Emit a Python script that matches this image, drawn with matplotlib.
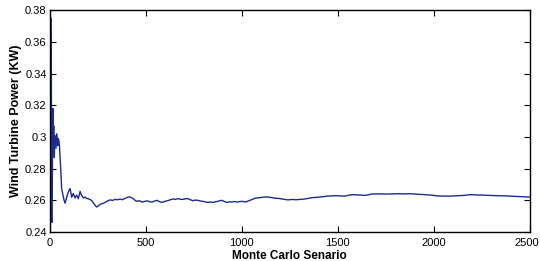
import matplotlib.pyplot as plt
from matplotlib.transforms import ScaledTranslation

# Monte Carlo running mean
scenario = [9, 10, 11, 12, 13, 14, 16, 18, 20, 22, 23, 25, 28, 31, 34, 37, 39, 43, 46, 49,
            52, 55, 59, 63, 67, 72, 76, 81, 85, 89, 94, 98, 103, 107, 111, 115, 120, 124,
            129, 133, 137, 141, 146, 150, 155, 159, 163, 167, 172, 176, 181, 185, 193,
            202, 210, 219, 228, 237, 245, 254, 263, 276, 289, 302, 315, 328, 341, 354,
            367, 380, 393, 404, 414, 424, 434, 445, 455, 468, 481, 494, 507, 520, 533,
            546, 559, 572, 585, 598, 611, 627, 642, 655, 668, 681, 694, 707, 720, 733,
            746, 759, 772, 785, 798, 811, 824, 837, 850, 863, 876, 887, 897, 910, 923,
            936, 949, 962, 975, 988, 1001, 1012, 1022, 1033, 1043, 1056, 1069, 1082,
            1095, 1108, 1121, 1134, 1147, 1160, 1173, 1186, 1199, 1220, 1240, 1261,
            1282, 1302, 1323, 1344, 1365, 1386, 1406, 1427, 1448, 1469, 1490, 1513,
            1537, 1555, 1573, 1594, 1615, 1630, 1646, 1661, 1677, 1711, 1745, 1784,
            1823, 1849, 1875, 1901, 1927, 1953, 1979, 2000, 2020, 2050, 2083, 2122,
            2161, 2174, 2187, 2213, 2239, 2278, 2317, 2356, 2395, 2445, 2495, 2500]
power = [0.375, 0.300, 0.252, 0.246, 0.285, 0.262, 0.300, 0.318, 0.300, 0.307,
         0.296, 0.287, 0.301, 0.297, 0.293, 0.302, 0.298, 0.2945, 0.299, 0.2975,
         0.294, 0.2873, 0.278, 0.2676, 0.265, 0.2621, 0.2600, 0.2582, 0.2600, 0.2620,
         0.2640, 0.2652, 0.2668, 0.2674, 0.2650, 0.2620, 0.2635, 0.2643, 0.2628,
         0.2615, 0.2625, 0.2633, 0.2620, 0.2611, 0.2635, 0.2657, 0.2645, 0.2632,
         0.2622, 0.2615, 0.2618, 0.2621, 0.2612, 0.2611, 0.2605, 0.2600, 0.2585,
         0.2569, 0.2558, 0.2565, 0.2575, 0.2580, 0.2587, 0.2596, 0.2603, 0.2600,
         0.2606, 0.2604, 0.2608, 0.2604, 0.2613, 0.2618, 0.2623, 0.2618, 0.2613,
         0.2600, 0.2594, 0.2598, 0.2589, 0.2593, 0.2597, 0.2592, 0.2589, 0.2596,
         0.2600, 0.2592, 0.2587, 0.2593, 0.2597, 0.2603, 0.2609, 0.2606, 0.2611,
         0.2607, 0.2606, 0.2610, 0.2611, 0.2604, 0.2598, 0.2602, 0.2600, 0.2596,
         0.2594, 0.2590, 0.2587, 0.2590, 0.2587, 0.2591, 0.2594, 0.2598, 0.2600,
         0.2593, 0.2587, 0.2591, 0.2590, 0.2593, 0.2589, 0.2592, 0.2594, 0.2591,
         0.2590, 0.2596, 0.2600, 0.2607, 0.2613, 0.2616, 0.2617, 0.2620, 0.2621,
         0.2622, 0.2619, 0.2617, 0.2613, 0.2613, 0.2611, 0.2607, 0.2603, 0.2606,
         0.2604, 0.2606, 0.2608, 0.2612, 0.2617, 0.2619, 0.2621, 0.2624, 0.2627,
         0.2628, 0.2630, 0.2628, 0.2627, 0.2632, 0.2636, 0.2635, 0.2634, 0.2632,
         0.2632, 0.2636, 0.2640, 0.2641, 0.2640, 0.2641, 0.2642, 0.2641, 0.2642,
         0.2640, 0.2638, 0.2636, 0.2634, 0.2631, 0.2628, 0.2627, 0.2627, 0.2629,
         0.2632, 0.2634, 0.2636, 0.2635, 0.2634, 0.2632, 0.2630, 0.2629, 0.2627,
         0.2624, 0.2621, 0.2621]

x_ticks = [0, 500, 1000, 1500, 2000, 2500]
y_ticks = [0.24, 0.26, 0.28, 0.3, 0.32, 0.34, 0.36, 0.38]
y_tick_labels = ['0.24', '0.26', '0.28', '0.3', '0.32', '0.34', '0.36', '0.38']

plt.rcParams['font.family'] = ['Liberation Sans', 'DejaVu Sans']

fig = plt.figure(figsize=(5.4, 2.61), dpi=100)
ax = fig.add_axes([0.0917, 0.111, 0.8898, 0.849])
ax.plot(scenario, power, color='#1c2b8f', linewidth=1.0)

ax.set_xlim(0, 2500)
ax.set_ylim(0.24, 0.38)
ax.set_xticks(x_ticks)
ax.set_xticklabels([str(t) for t in x_ticks])
ax.set_yticks(y_ticks)
ax.set_yticklabels(y_tick_labels)
ax.tick_params(direction='in', top=True, right=True, length=4, width=0.8,
               labelsize=8, pad=2)
ax.tick_params(axis='x', pad=4)
for s in ax.spines.values():
    s.set_linewidth(1.0)

# last x label sits right at the figure edge, nudge it in a little
last = ax.get_xticklabels()[-1]
last.set_transform(last.get_transform() + ScaledTranslation(-3 / 100, 0, fig.dpi_scale_trans))

ax.set_xlabel('Monte Carlo Senario', fontsize=8.5, fontweight='bold', va='top')
ax.xaxis.set_label_coords(0.5, -0.082)
ax.set_ylabel('Wind Turbine Power (KW)', fontsize=9, fontweight='bold')
ax.yaxis.set_label_coords(-0.057, 0.5)

fig.savefig('out.png', dpi=100)
